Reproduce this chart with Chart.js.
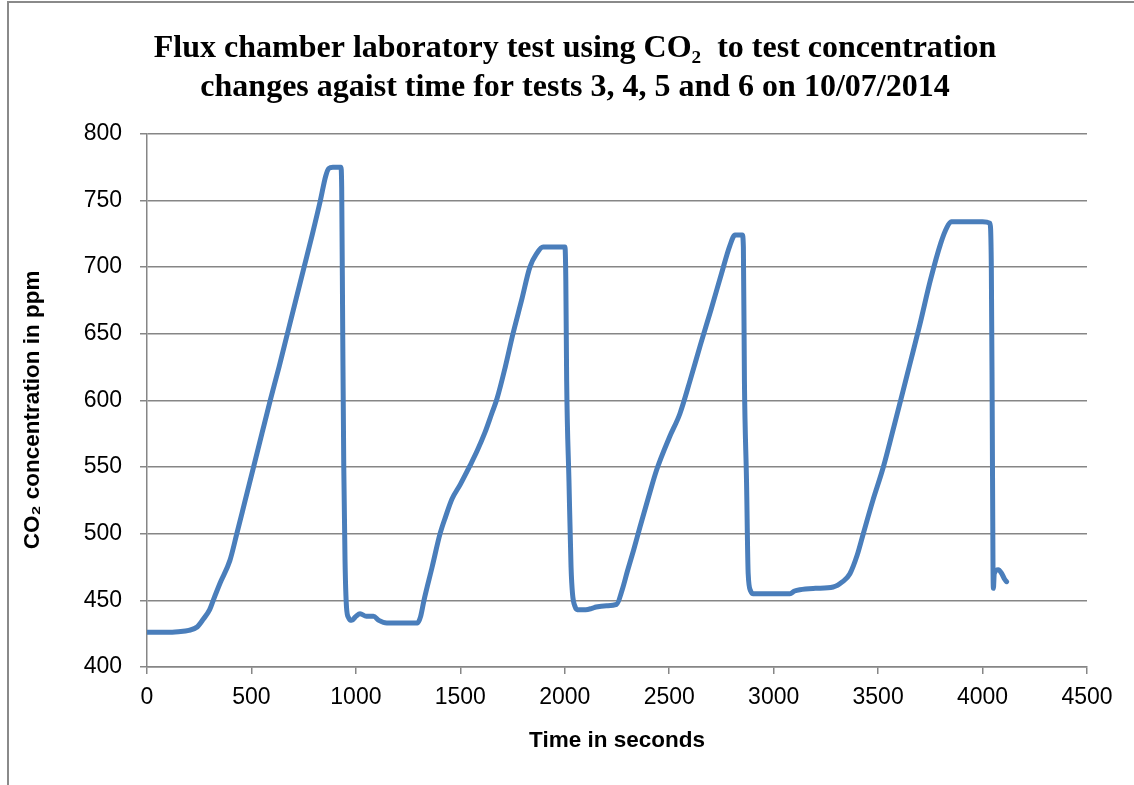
<!DOCTYPE html>
<html>
<head>
<meta charset="utf-8">
<script src="https://cdn.jsdelivr.net/npm/chart.js@4"></script>
<style>
  body { margin: 0; background: #fff; overflow: hidden; }
  #marco { position: absolute; left: 7px; top: 1px; width: 1300px; height: 900px;
           border-left: 2px solid #8a8a8a; border-top: 2px solid #8a8a8a; }
  #caja { position: absolute; left: 0; top: 0; width: 1134px; height: 785px; }
</style>
</head>
<body>
<div id="marco"></div>
<div id="caja"><canvas id="grafico"></canvas></div>
<script>
// Tiempo en segundos y CO2 en ppm
const tiempos = [
  0, 50, 100, 150, 200, 240, 270, 300, 317, 350, 397, 430, 470, 510, 550, 590, 632, 672, 712, 752, 792, 830, 855, 870, 890, 928,
  932, 937, 942, 948, 955, 965, 980, 1000, 1020, 1050, 1084, 1110, 1148, 1200, 1250, 1295,
  1310, 1326, 1365, 1403, 1430, 1460, 1500, 1546, 1580, 1618, 1650, 1675, 1715, 1752, 1793, 1833, 1865, 1896, 1950, 2001,
  2005, 2009, 2020, 2030, 2037, 2050, 2060, 2100, 2130, 2150, 2200, 2248,
  2275, 2300, 2330, 2360, 2400, 2440, 2500, 2551, 2600, 2650, 2700, 2750, 2790, 2815, 2850,
  2855, 2860, 2870, 2878, 2890, 2902, 2950, 3000, 3078, 3100, 3125, 3200, 3285, 3330, 3365, 3400, 3429, 3475, 3525, 3575,
  3621, 3650, 3700, 3750, 3800, 3830, 3850, 3950, 4000, 4035,
  4042, 4046, 4050, 4052, 4056, 4075, 4092, 4105, 4115
];
const co2 = [
  426, 426, 426, 426.5, 427.5, 430, 436, 443, 450, 463, 480, 500, 525, 550, 575, 600, 625, 650, 675, 700, 725, 750, 768, 774, 775, 775,
  760, 650, 550, 480, 445, 437, 435, 438, 440, 438, 438, 435, 433, 433, 433, 433,
  438, 450, 475, 500, 513, 526, 537, 551, 562, 576, 590, 601, 625, 650, 675, 700, 710, 715, 715, 715,
  690, 615, 540, 475, 455, 445, 443, 443, 444, 445, 446, 447,
  458, 472, 488, 505, 527, 548, 572, 590, 615, 642, 668, 695, 716, 724, 724,
  715, 615, 540, 470, 457, 455, 455, 455, 455, 457, 458, 459, 460, 464, 470, 484, 500, 525, 550, 580,
  608, 626, 657, 690, 718, 730, 734, 734, 734, 733,
  700, 600, 475, 459, 470, 473, 470, 466, 464
];
const ticksX = { min: 0, max: 4500, paso: 500 };
const ticksY = { min: 400, max: 800, paso: 50 };

const gris = '#868686';
const fuenteEjes = 'Liberation Sans, Arial, sans-serif';

const puntos = tiempos.map((t, i) => ({ x: t, y: co2[i] }));

new Chart(document.getElementById('grafico'), {
  type: 'scatter',
  data: {
    datasets: [{
      data: puntos,
      showLine: true,
      borderColor: '#4a7ebb',
      borderWidth: 5,
      pointRadius: 0,
      cubicInterpolationMode: 'monotone',
      borderJoinStyle: 'round',
      borderCapStyle: 'round'
    }]
  },
  options: {
    responsive: true,
    maintainAspectRatio: false,
    animation: false,
    layout: { padding: { left: 16, right: 0, top: 0, bottom: 0 } },
    plugins: {
      legend: { display: false },
      tooltip: { enabled: false },
      title: {
        display: true,
        text: ['Flux chamber laboratory test using CO\u2082  to test concentration',
               'changes agaist time for tests 3, 4, 5 and 6 on 10/07/2014'],
        color: '#000',
        font: { family: 'Liberation Serif, Times New Roman, serif', size: 32, weight: 'bold', lineHeight: 1.2 },
        padding: { top: 30, bottom: 27 }
      }
    },
    scales: {
      x: {
        type: 'linear',
        min: ticksX.min,
        max: ticksX.max,
        afterFit: eje => { eje.height = 118; },
        ticks: { stepSize: ticksX.paso, color: '#000', padding: 10, maxRotation: 0,
                 callback: v => String(v),
                 font: { family: fuenteEjes, size: 23 } },
        grid: { drawOnChartArea: false, drawTicks: true, tickLength: 7, color: gris, lineWidth: 1.5 },
        border: { color: gris, width: 1.5 },
        title: { display: true, text: 'Time in seconds', color: '#000',
                 font: { family: fuenteEjes, size: 22.5, weight: 'bold', lineHeight: 1.2 },
                 padding: { top: 0, bottom: 31 } }
      },
      y: {
        min: ticksY.min,
        max: ticksY.max,
        afterFit: eje => { eje.width = 131; },
        ticks: { stepSize: ticksY.paso, color: '#000', padding: 18,
                 callback: v => String(v),
                 font: { family: fuenteEjes, size: 23 } },
        grid: { color: gris, lineWidth: 1.5, tickLength: 7 },
        border: { color: gris, width: 1.5 },
        title: { display: true, text: 'CO\u2082 concentration in ppm\u00a0\u00a0\u00a0', color: '#000',
                 font: { family: fuenteEjes, size: 22.5, weight: 'bold', lineHeight: 1.2 },
                 padding: { top: 3, bottom: 0 } }
      },
      // eje vacio a la derecha, solo para reservar el margen
      margen: {
        type: 'linear',
        position: 'right',
        afterFit: eje => { eje.width = 47; },
        ticks: { display: false },
        grid: { display: false },
        border: { display: false }
      }
    }
  }
});
</script>
</body>
</html>
